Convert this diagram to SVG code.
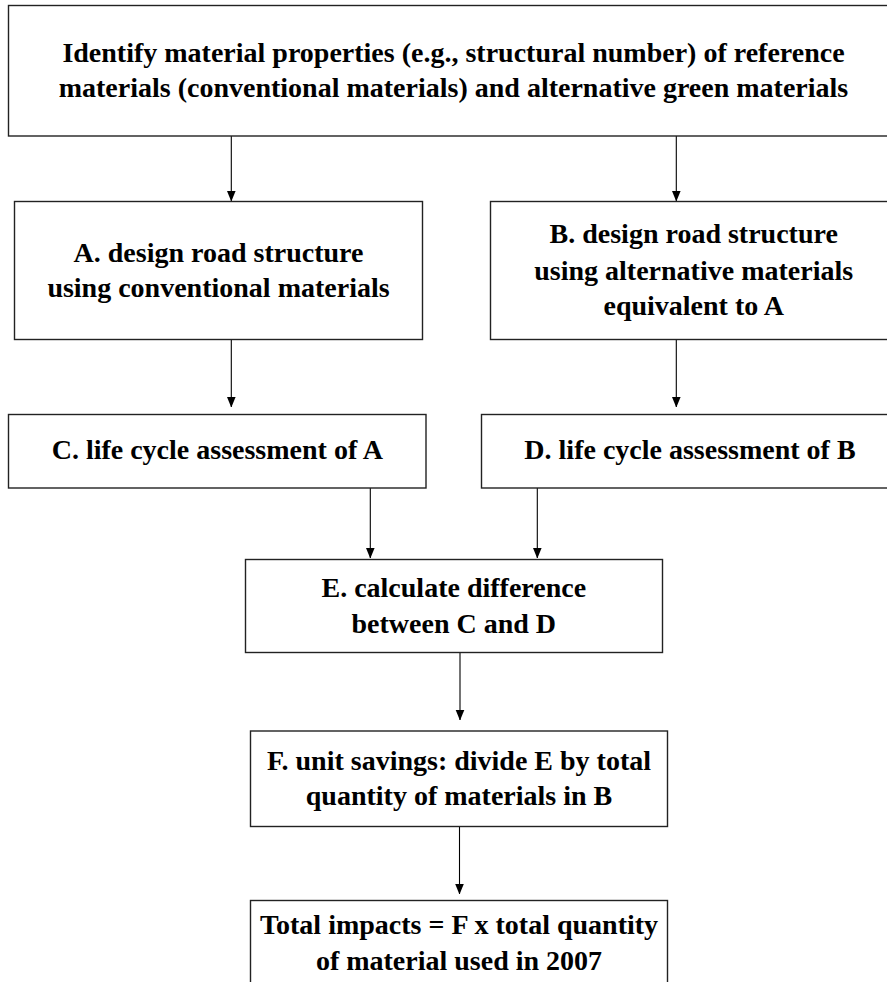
<svg xmlns="http://www.w3.org/2000/svg" width="887" height="982" viewBox="0 0 887 982">
<defs>
<style>
.box{fill:#fff;stroke:#222;stroke-width:1.4}
.t{font-family:"Liberation Serif","Times New Roman",serif;font-weight:bold;font-size:28px;fill:#000;text-anchor:middle}
.c{stroke:#000;stroke-width:1.1;fill:none}
</style>
<marker id="ah" markerUnits="userSpaceOnUse" markerWidth="10" markerHeight="12" refX="10.5" refY="4.5" orient="auto">
<path d="M0,0 L11,4.5 L0,9 Z" fill="#000"/>
</marker>
</defs>
<rect width="887" height="982" fill="#fff"/>
<g id="connectors">
<line class="c" x1="231.3" y1="136" x2="231.3" y2="201" marker-end="url(#ah)"/>
<line class="c" x1="676.3" y1="136" x2="676.3" y2="201" marker-end="url(#ah)"/>
<line class="c" x1="231.3" y1="339.5" x2="231.3" y2="407" marker-end="url(#ah)"/>
<line class="c" x1="676.3" y1="339.5" x2="676.3" y2="407" marker-end="url(#ah)"/>
<line class="c" x1="370.3" y1="488" x2="370.3" y2="558" marker-end="url(#ah)"/>
<line class="c" x1="537.3" y1="488" x2="537.3" y2="558" marker-end="url(#ah)"/>
<line class="c" x1="460" y1="653" x2="460" y2="720" marker-end="url(#ah)"/>
<line class="c" x1="459.5" y1="827" x2="459.5" y2="894" marker-end="url(#ah)"/>
</g>
<g id="top">
<rect class="box" x="8.5" y="5.5" width="890" height="130.5"/>
<text class="t" x="453.5" y="62">Identify material properties (e.g., structural number) of reference</text>
<text class="t" x="453.5" y="97">materials (conventional materials) and alternative green materials</text>
</g>
<g id="A">
<rect class="box" x="14.5" y="201.5" width="408" height="138"/>
<text class="t" x="218.5" y="262">A. design road structure</text>
<text class="t" x="218.5" y="297">using conventional materials</text>
</g>
<g id="B">
<rect class="box" x="490.5" y="201.5" width="410" height="138"/>
<text class="t" x="693.7" y="243">B. design road structure</text>
<text class="t" x="693.7" y="279.5">using alternative materials</text>
<text class="t" x="693.7" y="315">equivalent to A</text>
</g>
<g id="C">
<rect class="box" x="8.5" y="414.5" width="417.5" height="73.5"/>
<text class="t" x="217.3" y="459">C. life cycle assessment of A</text>
</g>
<g id="D">
<rect class="box" x="481.5" y="414.5" width="420" height="73.5"/>
<text class="t" x="690" y="459">D. life cycle assessment of B</text>
</g>
<g id="E">
<rect class="box" x="245.5" y="559.5" width="417" height="93"/>
<text class="t" x="453.8" y="597">E. calculate difference</text>
<text class="t" x="453.8" y="633">between C and D</text>
</g>
<g id="F">
<rect class="box" x="250.5" y="731" width="417" height="95.5"/>
<text class="t" x="459" y="769.5">F. unit savings: divide E by total</text>
<text class="t" x="459" y="805">quantity of materials in B</text>
</g>
<g id="G">
<rect class="box" x="250.5" y="900.5" width="417" height="100"/>
<text class="t" x="459" y="933.5">Total impacts = F x total quantity</text>
<text class="t" x="459" y="969.5">of material used in 2007</text>
</g>
</svg>
